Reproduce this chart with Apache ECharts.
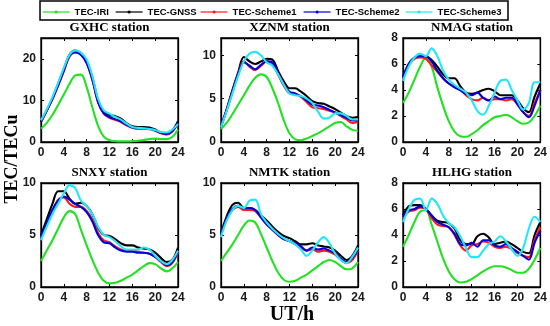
<!DOCTYPE html>
<html><head><meta charset="utf-8">
<script src="https://cdn.jsdelivr.net/npm/echarts@6/dist/echarts.min.js"></script>
<style>html,body{margin:0;padding:0;background:#fff}#c{width:550px;height:326px}</style>
</head><body><div id="c"></div>
<script>
const hours = [0,1,2,3,4,5,6,7,8,9,10,11,12,13,14,15,16,17,18,19,20,21,22,23,24];
const stationTitles = ['GXHC station','XZNM station','NMAG station','SNXY station','NMTK station','HLHG station'];
const seriesNames = ['TEC-IRI','TEC-GNSS','TEC-Scheme1','TEC-Scheme2','TEC-Scheme3'];
const seriesColors = ['#22e022','#000000','#ff1a1a','#0000dd','#22e8f5'];
const yMax = [25,12,8,10,10,8];
const yInterval = [10,5,2,5,5,2];
const xMax = 24, xInterval = 4;
const xAxisTitle = 'UT/h';
const yAxisTitle = 'TEC/TECu';

// GXHC
const gxhcIRI     = [3.2,4.6,6.5,8.9,11.4,14,16,16.2,13.2,8.3,3.9,1.3,0.4,0.2,0.15,0.15,0.2,0.3,0.5,0.7,0.8,0.7,0.7,1.2,3];
const gxhcGNSS    = [4.8,7.5,10.5,14,17.5,21,22,21.3,19.5,15.5,10,7.2,6.5,6.2,5.6,4.5,3.8,3.6,3.6,3.5,3,2.3,2,2.8,5];
const gxhcScheme1 = [5,7.5,10.3,13.5,17,20.5,21.5,21,19,15,9.5,6.8,5.8,5.3,4.8,4,3.4,3.2,3.2,3.1,2.7,2.1,1.8,2.5,4.5];
const gxhcScheme2 = [5,7.6,10.4,13.7,17.2,20.8,21.6,21,19,15,9.6,6.9,6,5.5,5,4.1,3.5,3.3,3.3,3.2,2.8,2.2,1.9,2.6,4.6];
const gxhcScheme3 = [5.2,7.8,10.8,14.2,17.8,21,22,21.5,19.8,15.8,10.4,7.6,6.8,6,5.4,4.4,3.6,3.4,3.3,3.1,2.9,2.4,2.3,3,4.3];
// XZNM
const xznmIRI     = [1.5,2.2,3.2,4.3,5.4,6.5,7.4,7.8,7.5,6.2,4.5,2.5,1,0.3,0.2,0.4,0.7,1.0,1.4,1.8,2.2,2.3,1.8,1.4,1.3];
const xznmGNSS    = [1.8,3.8,6,8,9.8,9.3,9,9.3,9.6,9.5,8.2,7,6.2,6.2,5.8,5.3,4.7,4.5,4.4,4.1,3.8,3.4,3,2.8,2.9];
const xznmScheme1 = [1.8,3.7,5.8,7.8,9.3,8.7,8.3,8.8,9.3,9,7.8,6.5,5.6,5.5,5.2,4.6,4,3.9,3.8,3.6,3.4,3,2.6,2.2,2.3];
const xznmScheme2 = [1.8,3.7,5.8,7.8,9.2,8.8,8.4,8.9,9.3,9.2,7.9,6.6,5.8,5.6,5.3,4.8,4.3,4.2,4,3.7,3.4,3.1,2.8,2.5,2.5];
const xznmScheme3 = [1.7,3.6,5.6,7.6,9.3,10.2,10.4,10,9.2,8.8,7.8,6.6,5.6,5.4,5.3,5,4.5,3.5,2.7,2.8,3.3,3.3,3,2.6,2.6];
// NMAG
const nmagIRI     = [3,3.8,4.8,5.8,6.5,5.8,4.2,2.8,1.6,0.8,0.45,0.4,0.6,0.9,1.3,1.6,1.9,2.0,2.1,1.9,1.6,1.4,1.5,2,2.8];
const nmagGNSS    = [5,6,6.5,6.6,6.6,6.3,5.8,5.2,4.9,4.9,4.3,3.8,3.7,3.8,4.0,4.1,3.9,3.6,3.6,3.6,3.2,2.6,2.3,3.5,4.5];
const nmagScheme1 = [4.8,5.9,6.4,6.5,6.4,5.9,5.4,4.9,4.5,4.3,4.0,3.6,3.3,3.2,3.4,3.2,3.3,3.3,3.2,3.3,2.9,2.3,2,3,4];
const nmagScheme2 = [5,6,6.5,6.6,6.6,6.2,5.5,4.9,4.5,4.2,4,3.7,3.6,3.8,3.4,3.2,3.5,3.3,3.4,3.4,2.9,2.3,1.9,2.8,4];
const nmagScheme3 = [4.7,5.8,6.5,6.8,6.6,7.2,6.6,5.5,4.8,4.4,4.1,3.8,3.2,2.4,2.1,2.8,3.8,4.7,4.8,4.0,3.2,2.5,3.0,4.6,4.6];
// SNXY
const snxyIRI     = [2.5,3.5,4.5,5.6,6.7,7.3,7.0,5.5,4.0,2.6,1.4,0.6,0.35,0.4,0.6,0.9,1.2,1.6,2.0,2.3,2.2,1.8,1.5,1.8,2.4];
const snxyGNSS    = [5,6.5,8,9.2,9.2,8.5,8,8.1,7.8,7,5.7,5,4.9,4.6,4.2,4,4,3.8,3.7,3.6,3.3,2.8,2.4,2.6,3.8];
const snxyScheme1 = [4.8,5.9,7.3,8.4,8.6,8.0,7.7,7.7,7.3,6.5,5.2,4.5,4.3,3.9,3.6,3.5,3.5,3.4,3.3,3.2,2.9,2.4,2.0,2.3,3.3];
const snxyScheme2 = [4.8,6.1,7.4,8.3,8.7,8.4,8.0,7.7,7.2,6.3,5,4.3,4.2,3.8,3.5,3.4,3.4,3.3,3.3,3.2,2.9,2.5,2.1,2.4,3.5];
const snxyScheme3 = [4.5,5.8,7,8.0,9,9.8,9.5,8.3,7.8,7,5.8,5.0,4.8,4.4,3.9,3.6,3.6,3.6,3.8,3.6,3,2.5,2.2,2.6,3.5];
// NMTK
const nmtkIRI     = [2.5,3.3,4.1,5.0,5.9,6.4,6.2,5.1,3.8,2.5,1.4,0.7,0.5,0.6,0.9,1.2,1.6,2.0,2.4,2.6,2.4,2.0,1.7,1.8,2.4];
const nmtkGNSS    = [5.2,6.8,7.9,8.1,7.6,7.6,7.4,6.9,6.4,5.8,5.3,4.9,4.7,4.4,4.1,4.1,4.2,4.0,3.9,3.8,3.5,3.0,2.6,3.0,4.0];
const nmtkScheme1 = [5,6.5,7.4,7.7,7.4,7.4,7.3,6.7,6.1,5.5,5.0,4.6,4.4,4.1,3.8,3.5,3.6,3.4,3.5,3.4,3.1,2.6,2.3,2.6,3.5];
const nmtkScheme2 = [5,6.6,7.5,7.8,7.6,7.6,7.4,6.7,6.0,5.5,5.0,4.6,4.4,4.2,3.9,3.5,3.8,3.6,3.7,3.5,3.2,2.7,2.4,2.8,3.6];
const nmtkScheme3 = [4.8,6.4,7.4,7.8,7.6,8.3,8.4,7.0,6.2,5.6,5.1,4.7,4.4,4.1,3.6,3.0,3.5,4.3,4.8,4.2,3.2,2.6,2.3,2.9,3.8];
// HLHG
const hlhgIRI     = [3.1,4.0,5.0,5.8,5.9,4.8,3.5,2.2,1.2,0.6,0.35,0.4,0.6,0.9,1.2,1.45,1.6,1.6,1.5,1.3,1.1,1.1,1.4,2.1,3.0];
const hlhgGNSS    = [5.5,6.2,6.3,6.3,6.0,5.5,5.1,5.0,4.9,4.5,3.6,3.3,3.3,3.9,4.1,3.8,3.3,3.4,3.5,3.3,3.0,2.7,2.6,4.0,5.0];
const hlhgScheme1 = [5.3,5.8,5.9,6.1,6.0,5.3,4.8,4.7,4.6,4.0,3.2,2.8,3.2,3.3,3.5,3.4,3.1,3.0,3.1,2.9,2.6,2.4,2.3,3.6,4.6];
const hlhgScheme2 = [5.4,5.9,6.0,6.2,6.0,5.5,5.0,4.8,4.6,4.1,3.3,3.2,3.4,3.1,3.6,3.6,3.2,3.1,3.3,3.0,2.7,2.4,2.1,3.4,4.3];
const hlhgScheme3 = [5,6,6.7,6.8,5.9,6.8,6.4,5.5,4.9,4.6,3.9,3.0,2.3,2.3,2.8,3.3,3.5,3.9,3.5,2.9,2.4,3.0,4.5,5.4,5.0];

const panelData = [
  [gxhcIRI,gxhcGNSS,gxhcScheme1,gxhcScheme2,gxhcScheme3],
  [xznmIRI,xznmGNSS,xznmScheme1,xznmScheme2,xznmScheme3],
  [nmagIRI,nmagGNSS,nmagScheme1,nmagScheme2,nmagScheme3],
  [snxyIRI,snxyGNSS,snxyScheme1,snxyScheme2,snxyScheme3],
  [nmtkIRI,nmtkGNSS,nmtkScheme1,nmtkScheme2,nmtkScheme3],
  [hlhgIRI,hlhgGNSS,hlhgScheme1,hlhgScheme2,hlhgScheme3]
];

const gridBoxes = [
  {left:41, top:38, width:137, height:104},
  {left:221, top:38, width:137, height:104},
  {left:403, top:38, width:138, height:104},
  {left:41, top:183, width:137, height:104},
  {left:221, top:183, width:137, height:104},
  {left:403, top:183, width:138, height:104}
];
const legendLeft = [42,115,200,303,405];

const chart = echarts.init(document.getElementById('c'), null, {renderer:'canvas'});
const labelFont = {fontFamily:'Arial, "Liberation Sans", sans-serif', fontWeight:'bold', fontSize:12, color:'#1a1a1a'};
const grids = [], xAxes = [], yAxes = [], series = [], graphics = [], legends = [];

gridBoxes.forEach((g, i) => {
  grids.push(Object.assign({show:true, borderColor:'#000', borderWidth:1.3, backgroundColor:'transparent'}, g));
  const axLine = {show:true, onZero:false, lineStyle:{color:'#000', width:1.3}};
  const tick = {show:true, inside:true, length:3, lineStyle:{color:'#000', width:1}};
  xAxes.push({type:'value', gridIndex:i, min:0, max:xMax, interval:xInterval, position:'bottom',
    axisLine:axLine, axisTick:tick, splitLine:{show:false},
    axisLabel:Object.assign({margin:5}, labelFont)});
  xAxes.push({type:'value', gridIndex:i, min:0, max:xMax, interval:xInterval, position:'top',
    axisLine:axLine, axisTick:tick, splitLine:{show:false}, axisLabel:{show:false}});
  const iv = yInterval[i];
  yAxes.push({type:'value', gridIndex:i, min:0, max:yMax[i], interval:iv, position:'left',
    axisLine:axLine, axisTick:tick, splitLine:{show:false},
    axisLabel:Object.assign({margin:5, formatter:v => (Math.abs(v/iv - Math.round(v/iv)) < 1e-6 ? String(v) : '')}, labelFont)});
  yAxes.push({type:'value', gridIndex:i, min:0, max:yMax[i], interval:iv, position:'right',
    axisLine:axLine, axisTick:tick, splitLine:{show:false}, axisLabel:{show:false}});
  panelData[i].forEach((vals, k) => {
    series.push({
      type:'line', name:seriesNames[k], xAxisIndex:2*i, yAxisIndex:2*i,
      data: hours.map((h, j) => [h, vals[j]]),
      smooth:0.35, symbol:'circle', symbolSize:3, showSymbol:false,
      lineStyle:{color:seriesColors[k], width:2.1}, itemStyle:{color:seriesColors[k]},
      z: 2 + k, silent:true, animation:false
    });
  });
  graphics.push({type:'text', x:g.left + g.width/2, y:g.top - 10,
    style:{text:stationTitles[i], font:'bold 13px "Liberation Serif", "Times New Roman", serif', fill:'#000', align:'center', verticalAlign:'middle'}});
});

seriesNames.forEach((n, k) => {
  legends.push({data:[n], left:legendLeft[k], top:7, itemWidth:27, itemHeight:4, itemGap:4, padding:0,
    lineStyle:{width:1.2},
    textStyle:{fontFamily:'Arial, "Liberation Sans", sans-serif', fontWeight:'bold', fontSize:9.5, color:'#000'}});
});

graphics.push({type:'rect', shape:{x:40, y:1, width:468, height:19}, style:{fill:'none', stroke:'#000', lineWidth:1.5}, z:0});
graphics.push({type:'text', x:12, y:159, rotation:Math.PI/2,
  style:{text:yAxisTitle, font:'bold 18px "Liberation Serif", "Times New Roman", serif', fill:'#000', align:'center', verticalAlign:'middle'}});
graphics.push({type:'text', x:292, y:315,
  style:{text:xAxisTitle, font:'bold 20px "Liberation Serif", "Times New Roman", serif', fill:'#000', align:'center', verticalAlign:'middle'}});

chart.setOption({
  animation:false,
  backgroundColor:'#fff',
  grid:grids, xAxis:xAxes, yAxis:yAxes, series:series,
  legend:legends, graphic:graphics
});
</script></body></html>
